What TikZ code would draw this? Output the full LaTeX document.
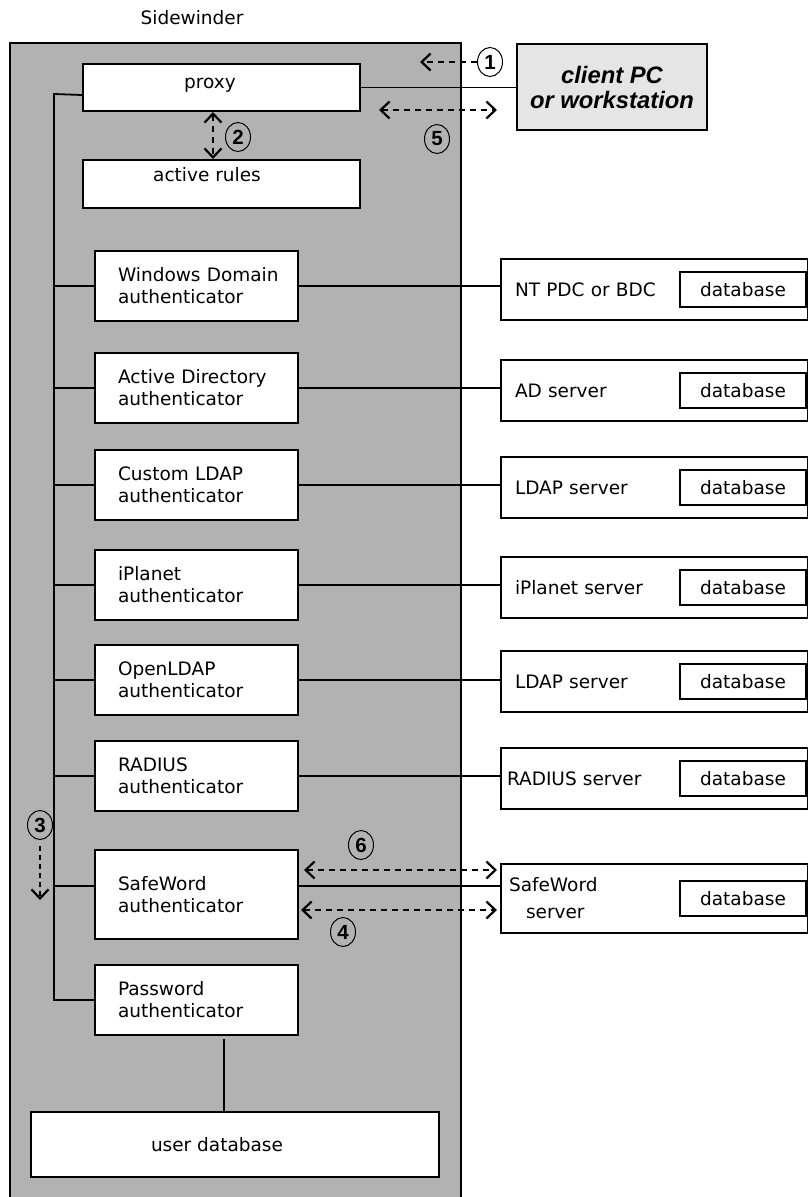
\documentclass[tikz,border=0pt]{standalone}
\usepackage{fontspec}
\setmainfont{DejaVu Sans}
\newfontfamily\numfont{Liberation Sans}
\newcommand{\boxfont}{\fontsize{18.5}{22}\selectfont}
\usetikzlibrary{arrows.meta,shapes.geometric}

\begin{document}
\begin{tikzpicture}[x=1pt,y=-1pt,>={Straight Barb[length=9pt,width=17pt]},
 wire/.style={line width=1.8pt},
 flow/.style={line width=2.2pt,dash pattern=on 6pt off 5pt},
 blockbox/.style={draw,line width=2pt,fill=white,anchor=north west,inner sep=0pt},
 lbl/.style={font=\boxfont},
 auth/.style={blockbox,minimum height=70pt,inner xsep=23pt,text width=157pt,align=left,font=\boxfont},
 srv/.style={blockbox,minimum height=61pt,inner xsep=14pt,text width=279pt,align=left,font=\boxfont},
 db/.style={draw,line width=2pt,anchor=east,minimum width=126pt,minimum height=35pt,inner sep=0pt,font=\boxfont},
 num/.style={ellipse,draw,line width=1pt,minimum width=25pt,minimum height=29pt,inner sep=0pt,font=\numfont\bfseries\fontsize{20.5}{20.5}\selectfont}]
\useasboundingbox (0,0) rectangle (808,1197);
\clip (0,0) rectangle (808,1197);

\node[draw,line width=2pt,fill=black!30,anchor=north west,minimum width=451pt,minimum height=1180pt] (side) at (9,42) {};
\node[lbl] (sidename) at (192,18) {Sidewinder};

\node[blockbox,minimum width=277pt,minimum height=47pt,label={[lbl,xshift=-11.5pt,yshift=2.5pt]center:proxy}] (proxy) at (82,63) {};
\node[blockbox,minimum width=277pt,minimum height=48pt,label={[lbl,xshift=-14.5pt,yshift=9pt]center:active rules}] (rules) at (82,159) {};
\node[blockbox,fill=black!10,minimum width=190pt,minimum height=86pt,align=center,font=\numfont\bfseries\itshape\fontsize{23.8}{25}\selectfont] (client) at (516,43) {client PC\\or workstation};

\node[auth] (wda) at (94,250) {\mbox{Windows Domain}\\authenticator};
\node[auth] (ada) at (94,352) {Active Directory\\authenticator};
\node[auth] (cla) at (94,449) {Custom LDAP\\authenticator};
\node[auth] (ipa) at (94,549) {iPlanet\\authenticator};
\node[auth] (ola) at (94,644) {OpenLDAP\\authenticator};
\node[auth] (raa) at (94,740) {RADIUS\\authenticator};
\node[auth,minimum height=89pt] (swa) at (94,849) {SafeWord\\authenticator};
\node[auth] (pwa) at (94,964) {Password\\authenticator};
\node[blockbox,minimum width=408pt,minimum height=65pt,label={[lbl,xshift=-18pt]center:user database}] (udb) at (30,1111) {};

\node[srv] (nts) at (500,258) {NT PDC or BDC};
\node[srv] (ads) at (500,359) {AD server};
\node[srv] (lds) at (500,456) {LDAP server};
\node[srv] (ips) at (500,556) {iPlanet server};
\node[srv] (ols) at (500,650) {LDAP server};
\node[srv,inner xsep=6pt,text width=295pt] (ras) at (500,747) {RADIUS server};
\node[srv,minimum height=69pt,inner xsep=8pt,text width=291pt] (sws) at (500,863) {SafeWord\\[5pt]\hspace*{17pt}server};
\foreach \s in {nts,ads,lds,ips,ols,ras,sws}
  \node[db] (\s db) at ([xshift=-2pt]\s.east) {database};

\coordinate (bus) at (54,94);
\coordinate (swl) at ([yshift=8.5pt]swa.west);
\coordinate (swr) at ([yshift=8.5pt]swa.east);
\draw[wire] ([yshift=-7.5pt]proxy.west) -- (bus) -- (bus |- pwa.west) -- (pwa.west);
\foreach \a in {wda,ada,cla,ipa,ola,raa}
  \draw[wire] (bus |- \a.west) -- (\a.west);
\draw[wire] (bus |- swl) -- (swl);
\foreach \a/\s in {wda/nts,ada/ads,cla/lds,ipa/ips,ola/ols,raa/ras}
  \draw[wire] (\a.east) -- (\a.east -| \s.west);
\draw[wire] (swr) -- (swr -| sws.west);
\draw[wire] (proxy.east) -- (proxy.east -| client.west);
\draw[wire] ([xshift=27.5pt,yshift=-3pt]pwa.south) -- ([xshift=27.5pt]pwa.south |- udb.north);

\node[num] (n1) at (490,62) {1};
\node[num] (n2) at (238,137) {2};
\node[num] (n3) at (40,825) {3};
\node[num] (n4) at (343,932) {4};
\node[num] (n5) at (437,139) {5};
\node[num] (n6) at (361,845) {6};

\coordinate (a1) at (420,62);
\coordinate (a5l) at (379,110);
\coordinate (a5r) at (497,110);
\coordinate (a6l) at ([shift={(5pt,24.5pt)}]swa.east);
\coordinate (a6r) at ([xshift=-3pt]a6l -| sws.west);
\coordinate (a4l) at ([shift={(2pt,-15.5pt)}]swa.east);
\coordinate (a4r) at ([xshift=-3pt]a4l -| sws.west);
\draw[flow,->] (n1.west) -- (a1);
\draw[flow,<->] ([xshift=-8.5pt]proxy.south) -- ([xshift=-8.5pt]rules.north);
\draw[flow,<->] (a5l) -- (a5r);
\draw[flow,dash pattern=on 5pt off 4pt,->] ([yshift=-6pt]n3.south) -- ([yshift=-60pt]n3.south);
\draw[flow,<->] (a6l) -- (a6r);
\draw[flow,<->] (a4l) -- (a4r);
\end{tikzpicture}
\end{document}
